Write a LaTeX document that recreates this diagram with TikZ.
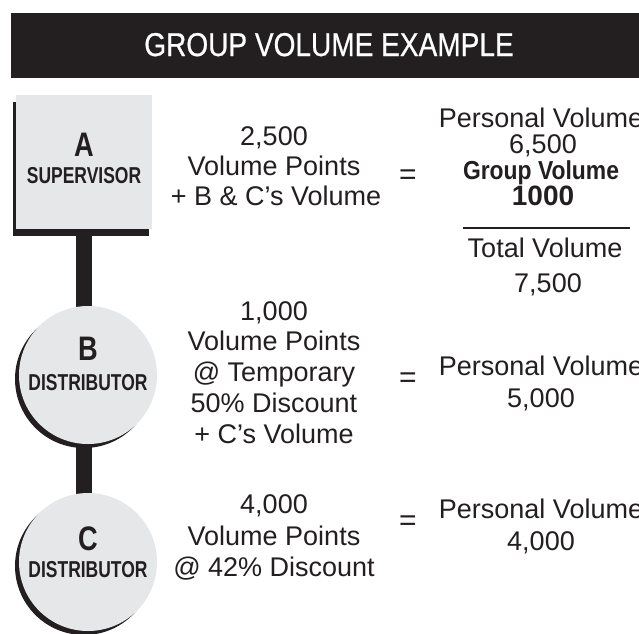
\documentclass[tikz,border=0pt]{standalone}
\usepackage{fontspec}
\setmainfont{Liberation Sans}
\newfontfamily\titlefont[FakeStretch=0.85,FakeBold=0.6]{Liberation Sans}
\newfontfamily\condfont[FakeStretch=0.8]{Liberation Sans}
\newfontfamily\labelfont[FakeStretch=0.76]{Liberation Sans}
\newfontfamily\boldcond[FakeStretch=0.88]{Liberation Sans}
\usetikzlibrary{shadows,backgrounds}
\definecolor{ink}{HTML}{231F20}
\definecolor{panel}{HTML}{E6E7E8}
\begin{document}
\begin{tikzpicture}[x=1pt,y=-1pt,
  txt/.style={anchor=base, text=ink, inner sep=0pt, font=\fontsize{27}{27}\selectfont},
  boldtxt/.style={anchor=base, text=ink, inner sep=0pt, font=\boldcond\bfseries\fontsize{26}{26}\selectfont},
  lbl/.style={anchor=base, text=ink, inner sep=0pt, font=\labelfont\bfseries\fontsize{23}{23}\selectfont},
  big/.style={anchor=base, text=ink, inner sep=0pt, font=\condfont\bfseries\fontsize{34}{34}\selectfont},
  eqsign/.style={text=ink, inner sep=0pt, font=\fontsize{30}{30}\selectfont},
  member/.style={circle, fill=panel, minimum size=138pt, inner sep=0pt,
    general shadow={fill=ink, shadow xshift=-4pt, shadow yshift=-4pt}},
  supbox/.style={rectangle, fill=panel, minimum width=136pt, minimum height=134pt, inner sep=0pt,
    general shadow={fill=ink, shadow xshift=-3pt, shadow yshift=-7pt}},
  bar/.style={line width=16pt, draw=ink}]
\useasboundingbox (0,0) rectangle (639,633);
\clip (0,0) rectangle (639,633);

% header
\fill[ink] (11,13) rectangle (650,78);
\node[anchor=base, text=white, inner sep=0pt, font=\titlefont\fontsize{33}{33}\selectfont] (title) at (329,56) {GROUP VOLUME EXAMPLE};

% members
\node[supbox] (A) at (84,162) {};
\node[member] (B) at (88,375) {};
\node[member] (C) at (88,562) {};

\begin{scope}[on background layer]
  \fill[white] (0,0) rectangle (639,633);
  \draw[bar] (A.center) -- (A.center |- B.center);
  \draw[bar] (A.center |- B.center) -- (A.center |- C.center);
\end{scope}

\node[big] (Aname) at (84,156) {A};
\node[lbl] (Arole) at (84,183) {SUPERVISOR};
\node[big] (Bname) at (88,360) {B};
\node[lbl] (Brole) at (88,390) {DISTRIBUTOR};
\node[big] (Cname) at (88,550) {C};
\node[lbl] (Crole) at (88,577) {DISTRIBUTOR};

% middle column
\node[txt] (a1) at (274,145) {2,500};
\node[txt] (a2) at (274,175) {Volume Points};
\node[txt] (a3) at (276,205) {+ B \& C’s Volume};

\node[txt] (b1) at (274,320) {1,000};
\node[txt] (b2) at (274,350) {Volume Points};
\node[txt] (b3) at (274,381) {@ Temporary};
\node[txt] (b4) at (274,412) {50\% Discount};
\node[txt] (b5) at (274,443) {+ C’s Volume};

\node[txt] (c1) at (274,513) {4,000};
\node[txt] (c2) at (274,545) {Volume Points};
\node[txt] (c3) at (274,576) {@ 42\% Discount};

% equals
\node[eqsign] (eqA) at (408,177) {=};
\node[eqsign] (eqB) at (408,380) {=};
\node[eqsign] (eqC) at (408,523) {=};

% right column
\node[txt] (ra1) at (541,127) {Personal Volume};
\node[txt] (ra2) at (543,153) {6,500};
\node[boldtxt] (ra3) at (541,179) {Group Volume};
\node[boldtxt, font=\bfseries\fontsize{28}{28}\selectfont] (ra4) at (543,205) {1000};
\draw[ink, line width=2.5pt] (463,228) -- (630,228);
\node[txt] (ra5) at (545,257) {Total Volume};
\node[txt] (ra6) at (548,292) {7,500};

\node[txt] (rb1) at (541,375) {Personal Volume};
\node[txt] (rb2) at (541,407) {5,000};

\node[txt] (rc1) at (541,518) {Personal Volume};
\node[txt] (rc2) at (541,550) {4,000};
\end{tikzpicture}
\end{document}
